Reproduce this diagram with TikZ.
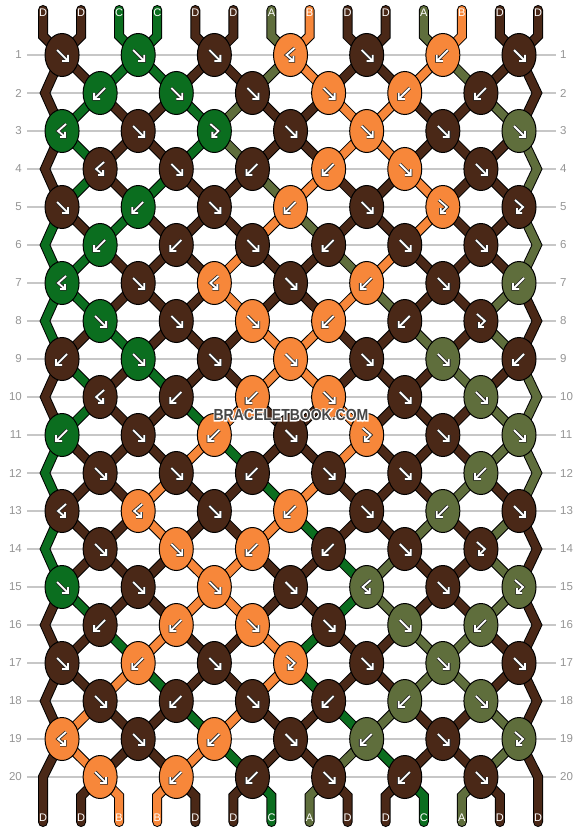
\documentclass[tikz,border=0pt]{standalone}
\usepackage{fontspec}
\setmainfont{Liberation Sans}
\usepgflibrary{shapes.geometric}
\usetikzlibrary{calc}

\definecolor{thD}{HTML}{4A2817}
\definecolor{thC}{HTML}{0B6E1F}
\definecolor{thA}{HTML}{5F6E3C}
\definecolor{thB}{HTML}{F7873A}

\pgfdeclarelayer{grid}
\pgfdeclarelayer{edges}
\pgfdeclarelayer{fills}
\pgfsetlayers{grid,edges,fills,main}

\tikzset{
	knot/.style={ellipse,draw=black,line width=1pt,minimum width=34pt,minimum height=43pt,inner sep=0pt},
	strandedge/.style={line width=10pt,black,line cap=round,line join=miter},
	strandfill/.style={line width=8pt,line cap=round,line join=miter},
	symedge/.style={line width=3.4pt,black!85,line join=miter},
	symline/.style={line width=1.8pt,white,line join=miter},
	rownum/.style={inner sep=0pt,text=black!42,font=\fontsize{11.5}{12}\selectfont},
	endlabel/.style={inner sep=0pt,text=white,font=\fontsize{11}{12}\selectfont},
	gridline/.style={black!22,line width=1.2pt,shorten <=5pt,shorten >=4pt},
	wmtext/.style={font=\bfseries\fontsize{16}{16}\selectfont,xscale=0.875,inner sep=0pt}
}

\newif\ifedgepass
\newcommand\strand[2]{\ifedgepass\draw[strandedge] #2;\else\draw[strandfill,#1] #2;\fi}
\newcommand\drawsym[2]{\begin{scope}[shift={(#1.center)}]\draw[symedge] #2;\draw[symline] #2;\end{scope}}
\newcommand\symF[1]{\drawsym{#1}{(-5,-5) -- (6,6) (0,6) -- (6,6) -- (6,0)}}
\newcommand\symB[1]{\drawsym{#1}{(5,-5) -- (-6,6) (0,6) -- (-6,6) -- (-6,0)}}
\newcommand\symFB[1]{\drawsym{#1}{(-4,-7) -- (4,0) -- (-2,6) (3,6) -- (-2,6) -- (-2,1)}}
\newcommand\symBF[1]{\drawsym{#1}{(4,-7) -- (-4,0) -- (3,6) (-2,6) -- (3,6) -- (3,1)}}
\def\ktF{F}\def\ktB{B}\def\ktFB{FB}\def\ktBF{BF}
\newcommand\haloed[1]{\special{pdf:code 1 Tr 2.4 w 1 1 1 RG}\rlap{#1}\special{pdf:code 0 Tr}#1}

\newcommand\allstrands{%
	\foreach \rw in {1,...,19}{
		\pgfmathtruncatemacro\rn{\rw+1}
		\foreach \p in {2,...,13}{
			\pgfmathtruncatemacro\ia{(\p+1-mod(\rw+1,2))/2}
			\pgfmathtruncatemacro\ib{(\p+1-mod(\rn+1,2))/2}
			\edef\col{\csname st\rw-\p\endcsname}
			\strand{draw=th\col}{(k\rw-\ia.center) -- (k\rn-\ib.center)}
		}
	}
	\foreach \rw in {1,3,...,17}{
		\pgfmathtruncatemacro\rn{\rw+1}
		\pgfmathtruncatemacro\rnn{\rw+2}
		\edef\col{\csname st\rw-1\endcsname}
		\strand{draw=th\col}{(k\rw-1.center) -- (zl\rn) -- (k\rnn-1.center)}
		\edef\col{\csname st\rw-14\endcsname}
		\strand{draw=th\col}{(k\rw-7.center) -- (zr\rn) -- (k\rnn-7.center)}
	}
	\foreach \p in {1,...,14}{
		\pgfmathtruncatemacro\ia{(\p+1)/2}
		\edef\col{\csname st0-\p\endcsname}
		\strand{draw=th\col}{(top\p) -- (bend\p) -- (k1-\ia.center)}
	}
	\foreach \p in {2,...,13}{
		\pgfmathtruncatemacro\ib{\p/2}
		\edef\col{\csname st20-\p\endcsname}
		\strand{draw=th\col}{(k20-\ib.center) -- (low\p) -- (bot\p)}
	}
	\edef\col{\csname st20-1\endcsname}
	\strand{draw=th\col}{(k19-1.center) -- (low1) -- (bot1)}
	\edef\col{\csname st20-14\endcsname}
	\strand{draw=th\col}{(k19-7.center) -- (low14) -- (bot14)}
}

\begin{document}
\begin{tikzpicture}[x=1pt,y=-1pt]
	\useasboundingbox (0,0) rectangle (582,832);
	\foreach \rw in {1,...,20}{
		\node[rownum,anchor=east] (nl\rw) at (22,17+38*\rw) {\rw};
		\node[rownum,anchor=west] (nr\rw) at (560,17+38*\rw) {\rw};
	}
	\begin{pgfonlayer}{grid}
		\foreach \rw in {1,...,20}{\draw[gridline] (nl\rw.east) -- (nr\rw.west);}
	\end{pgfonlayer}
	\foreach \p/\ini in {1/D,2/D,3/C,4/C,5/D,6/D,7/A,8/B,9/D,10/D,11/A,12/B,13/D,14/D}{
		\expandafter\xdef\csname st0-\p\endcsname{\ini}
		\expandafter\xdef\csname cur\p\endcsname{\ini}
	}
	\foreach \rw/\kts in {1/{F,F,F,BF,F,B,F},2/{B,F,F,F,B,B},3/{BF,F,FB,F,F,F,F},4/{BF,F,B,B,F,F},
		5/{F,B,F,B,F,FB,FB},6/{B,B,F,B,F,F},7/{BF,F,BF,F,B,F,B},8/{F,F,F,B,B,FB},
		9/{B,F,F,F,F,F,B},10/{BF,B,B,F,F,F},11/{B,F,B,F,FB,F,F},12/{F,F,B,F,F,B},
		13/{BF,BF,F,B,F,B,F},14/{F,F,B,B,F,FB},15/{F,F,F,F,BF,F,FB},16/{B,B,F,F,F,B},
		17/{F,B,F,FB,F,F,F},18/{F,B,F,B,B,F},19/{BF,F,B,F,B,F,FB},20/{F,B,B,F,B,F}}{
		\pgfmathtruncatemacro\off{mod(\rw+1,2)}
		\foreach \ty [count=\kn] in \kts{
			\pgfmathtruncatemacro\sla{2*\kn-1+\off}
			\pgfmathtruncatemacro\slb{2*\kn+\off}
			\edef\lc{\csname cur\sla\endcsname}
			\edef\rc{\csname cur\slb\endcsname}
			\edef\tyx{\ty}
			\ifx\tyx\ktF \edef\kc{\lc}\def\swp{1}\fi
			\ifx\tyx\ktB \edef\kc{\rc}\def\swp{1}\fi
			\ifx\tyx\ktFB \edef\kc{\lc}\def\swp{0}\fi
			\ifx\tyx\ktBF \edef\kc{\rc}\def\swp{0}\fi
			\node[knot,fill=th\kc] (k\rw-\kn) at ({62.04+(2*\kn-2+\off)*38.08},{17+38*\rw}) {};
			\csname sym\tyx\endcsname{k\rw-\kn}
			\if1\swp
				\expandafter\xdef\csname cur\sla\endcsname{\rc}
				\expandafter\xdef\csname cur\slb\endcsname{\lc}
			\fi
		}
		\foreach \p in {1,...,14}{
			\expandafter\xdef\csname st\rw-\p\endcsname{\csname cur\p\endcsname}
		}
	}
	\foreach \rw in {2,4,...,18}{
		\coordinate (zl\rw) at (45,17+38*\rw);
		\coordinate (zr\rw) at (537,17+38*\rw);
	}
	\foreach \p in {1,...,14}{
		\coordinate (top\p) at ({43+(\p-1)*38.08},10);
		\coordinate (bend\p) at ({43+(\p-1)*38.08},36);
		\coordinate (low\p) at ({43+(\p-1)*38.08},796);
		\coordinate (bot\p) at ({43+(\p-1)*38.08},822);
		\edef\col{\csname st0-\p\endcsname}
		\node[endlabel] (lt\p) at ({43+(\p-1)*38.08},13) {\col};
		\edef\col{\csname st20-\p\endcsname}
		\node[endlabel] (lb\p) at ({43+(\p-1)*38.08},818) {\col};
	}
	\coordinate (low1) at (43,777);
	\coordinate (low14) at (538.04,777);
	\begin{pgfonlayer}{edges}\edgepasstrue\allstrands\end{pgfonlayer}
	\begin{pgfonlayer}{fills}\edgepassfalse\allstrands\end{pgfonlayer}
	\node[wmtext,text=black!72] (wm) at (291,415) {\haloed{BRACELETBOOK.COM}};
\end{tikzpicture}
\end{document}
